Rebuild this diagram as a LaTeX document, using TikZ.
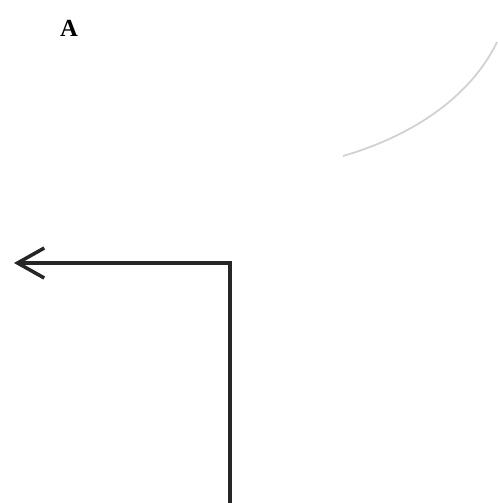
\documentclass[tikz,border=0pt]{standalone}
\usepackage{fontspec}
\setmainfont{Liberation Serif}
\usepackage{tikz}
\usetikzlibrary{arrows.meta}

\begin{document}
\begin{tikzpicture}[x=0.03cm,y=-0.03cm,every node/.style={font=\fontsize{21}{23}\selectfont\bfseries},wire/.style={draw=black!85,line width=3pt},faint/.style={draw=black!18,line width=1.5pt}]
\useasboundingbox (0,0) rectangle (497,503);
\node (lbl) at (69,28) {A};

\coordinate (start) at (230,503);
\coordinate (bend) at (230,263);
\coordinate (tip) at (14,263);
\draw[wire,-{Straight Barb[length=8mm,width=9mm,line width=3pt]}] (start) -- (bend) -- (tip);

\coordinate (arcL) at (343,156);
\coordinate (arcR) at (497,42);
\draw[faint] (arcL) .. controls (425,132) and (475,88) .. (arcR);
\end{tikzpicture}
\end{document}
